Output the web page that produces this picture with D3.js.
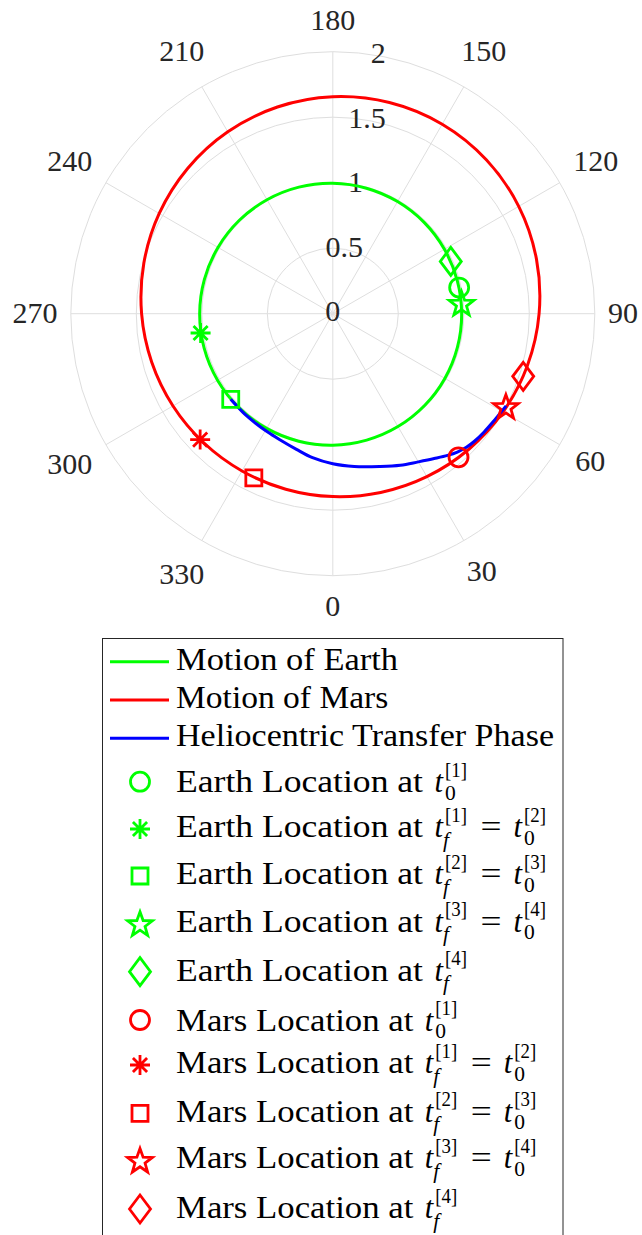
<!DOCTYPE html>
<html>
<head>
<meta charset="utf-8">
<script src="https://cdn.jsdelivr.net/npm/d3@7"></script>
<style>
  html, body { margin: 0; padding: 0; background: #fff; }
  svg { display: block; }
</style>
</head>
<body>
<svg id="chart" width="642" height="1235"></svg>
<script>
// ---- Orbit samples: polar angle (deg) and heliocentric radius (AU) ----
const orbitTheta = [0, 15, 30, 45, 60, 75, 90, 105, 120, 135, 150, 165,
                    180, 195, 210, 225, 240, 255, 270, 285, 300, 315, 330, 345];
const earthR = [1.0035, 0.9991, 0.9949, 0.9910, 0.9877, 0.9852, 0.9837, 0.9833,
                0.9840, 0.9858, 0.9885, 0.9919, 0.9960, 1.0003, 1.0046, 1.0087,
                1.0121, 1.0147, 1.0163, 1.0167, 1.0160, 1.0141, 1.0113, 1.0076];
const marsR  = [1.3959, 1.4125, 1.4362, 1.4659, 1.5004, 1.5375, 1.5748, 1.6096,
                1.6388, 1.6597, 1.6702, 1.6690, 1.6563, 1.6336, 1.6030, 1.5675,
                1.5299, 1.4932, 1.4596, 1.4309, 1.4086, 1.3935, 1.3862, 1.3870];

// ---- Heliocentric transfer arc ----
const transferTheta = [310, 318, 325, 331, 337, 345, 352, 0, 8, 17, 24, 30,
                       35, 39, 42, 45, 48, 52, 56, 59, 62];
const transferR = [1.017, 1.019, 1.023, 1.031, 1.043, 1.072, 1.110, 1.146, 1.178,
                   1.220, 1.267, 1.306, 1.350, 1.392, 1.421, 1.442, 1.455, 1.466,
                   1.476, 1.485, 1.498];

// ---- Planet locations at the phase boundary epochs ----
const markerShapes = ["circle", "asterisk", "square", "pentagram", "diamond"];
const earthMarkerTheta = [101.7, 278.3, 310.0, 94.8, 113.9];
const earthMarkerR     = [0.985, 1.020, 1.017, 0.986, 0.985];
const marsMarkerTheta  = [41.2, 313.5, 334.3, 61.9, 71.8];
const marsMarkerR      = [1.457, 1.396, 1.390, 1.498, 1.530];

// ---- Axis ticks ----
const thetaTicks = [0, 30, 60, 90, 120, 150, 180, 210, 240, 270, 300, 330];
const rTicks = [0, 0.5, 1, 1.5, 2];
const rTickLabels = ["0", "0.5", "1", "1.5", "2"];

// ---- Legend ----
const lineNames = ["Motion of Earth", "Motion of Mars", "Heliocentric Transfer Phase"];
const bodyNames = ["Earth", "Mars"];
// each epoch label: list of [subscript, superscript] joined by "="
const epochLabels = [
  [["0", "[1]"]],
  [["f", "[1]"], ["0", "[2]"]],
  [["f", "[2]"], ["0", "[3]"]],
  [["f", "[3]"], ["0", "[4]"]],
  [["f", "[4]"]]
];

const GREEN = "#00ff00", RED = "#ff0000", BLUE = "#0000ff";
const GRID = "#dedede", AXIS_TEXT = "#262626";
const FONT = "'Liberation Serif', Tinos, 'Times New Roman', 'DejaVu Serif', serif";

const svg = d3.select("#chart");
const cx = 332.8, cy = 313.7;
const RMAX = 262;

const r = d3.scaleLinear().domain([0, 2]).range([0, RMAX]);
// 0 deg at the bottom, increasing counter-clockwise on screen
const ang = d3.scaleLinear().domain([0, 360]).range([Math.PI, -Math.PI]);
const toXY = (t, rv) => {
  const a = ang(t), rr = r(rv);
  return [cx + rr * Math.sin(a), cy - rr * Math.cos(a)];
};

const plot = svg.append("g");

// grid circles
plot.selectAll("circle.grid").data(rTicks.filter(d => d > 0)).join("circle")
  .attr("cx", cx).attr("cy", cy).attr("r", d => r(d))
  .attr("fill", "none").attr("stroke", GRID).attr("stroke-width", 1);

// spokes
plot.selectAll("line.spoke").data(thetaTicks).join("line")
  .attr("x1", cx).attr("y1", cy)
  .attr("x2", d => toXY(d, 2)[0]).attr("y2", d => toXY(d, 2)[1])
  .attr("stroke", GRID).attr("stroke-width", 1);

// theta tick labels: label box kept a fixed gap outside the outer ring
const TFS = 30;
plot.selectAll("text.tt").data(thetaTicks).join("text")
  .each(function (d) {
    const a = ang(d), ux = Math.sin(a), uy = -Math.cos(a);
    const w = String(d).length * TFS * 0.5, hh = 17.7;
    const dist = RMAX + 13.3 + (w / 2) * Math.abs(ux) + hh * Math.abs(uy);
    d3.select(this)
      .attr("x", cx + dist * ux)
      .attr("y", cy + dist * uy - 1.7 + 10.5);
  })
  .attr("text-anchor", "middle")
  .attr("font-family", FONT).attr("font-size", TFS).attr("fill", AXIS_TEXT)
  .text(d => d);

// r tick labels along the 170 deg direction
plot.selectAll("text.rt").data(rTicks).join("text")
  .attr("x", d => toXY(170, d)[0])
  .attr("y", d => toXY(170, d)[1] + 10.5 - 3)
  .attr("text-anchor", "middle")
  .attr("font-family", FONT).attr("font-size", TFS).attr("fill", AXIS_TEXT)
  .text((d, i) => rTickLabels[i]);

// orbits and transfer arc
const radial = d3.lineRadial()
  .angle(d => ang(d[0]))
  .radius(d => r(d[1]));

const gLines = plot.append("g").attr("transform", `translate(${cx},${cy})`);
gLines.append("path")
  .attr("d", radial.curve(d3.curveCatmullRomClosed.alpha(0.5))(orbitTheta.map((t, i) => [t, earthR[i]])))
  .attr("fill", "none").attr("stroke", GREEN).attr("stroke-width", 3);
gLines.append("path")
  .attr("d", radial.curve(d3.curveCatmullRomClosed.alpha(0.5))(orbitTheta.map((t, i) => [t, marsR[i]])))
  .attr("fill", "none").attr("stroke", RED).attr("stroke-width", 3);
gLines.append("path")
  .attr("d", radial.curve(d3.curveCatmullRom.alpha(0.5))(transferTheta.map((t, i) => [t, transferR[i]])))
  .attr("fill", "none").attr("stroke", BLUE).attr("stroke-width", 3);

// marker shapes
function markerPath(shape) {
  const p = d3.path();
  if (shape === "circle") {
    p.arc(0, 0, 9.5, 0, 2 * Math.PI);
  } else if (shape === "square") {
    p.rect(-8, -8, 16, 16);
  } else if (shape === "diamond") {
    p.moveTo(0, -14); p.lineTo(10.5, 0); p.lineTo(0, 14); p.lineTo(-10.5, 0); p.closePath();
  } else if (shape === "pentagram") {
    for (let k = 0; k < 10; k++) {
      const rr = k % 2 === 0 ? 13 : 5.3;
      const a = -Math.PI / 2 + k * Math.PI / 5;
      const x = rr * Math.cos(a), y = rr * Math.sin(a) + 1.5;
      if (k === 0) p.moveTo(x, y); else p.lineTo(x, y);
    }
    p.closePath();
  } else if (shape === "asterisk") {
    const s = 10, d = 7.07;
    p.moveTo(-s, 0); p.lineTo(s, 0);
    p.moveTo(0, -s); p.lineTo(0, s);
    p.moveTo(-d, -d); p.lineTo(d, d);
    p.moveTo(-d, d); p.lineTo(d, -d);
  }
  return p.toString();
}

function drawMarkers(thetas, radii, color) {
  plot.append("g").selectAll("path").data(thetas).join("path")
    .attr("transform", (t, i) => { const [x, y] = toXY(t, radii[i]); return `translate(${x},${y})`; })
    .attr("d", (t, i) => markerPath(markerShapes[i]))
    .attr("fill", "none").attr("stroke", color).attr("stroke-width", 2.8);
}
drawMarkers(earthMarkerTheta, earthMarkerR, GREEN);
drawMarkers(marsMarkerTheta, marsMarkerR, RED);

// ---- legend ----
const legend = svg.append("g");
legend.append("rect")
  .attr("x", 102.5).attr("y", 638.5).attr("width", 460.5).attr("height", 640)
  .attr("fill", "#fff").attr("stroke", "#262626").attr("stroke-width", 1);

const LFS = 30.5, SFS = 21.5, TEXT_X = 176;
const lineRowY = [661.7, 700, 738.3];
const lineTextW = [222, 212.3, 378];
const markerRowY = [781.7, 829, 876, 923.3, 971.7, 1020, 1065, 1113.3, 1160, 1209];
const markerBaseOff = [10.6, 8.3, 8.3, 8.3, 9.0, 10.6, 8.3, 8.3, 8.3, 9.0];
const prefixW = [247, 237.3];

const lineColors = [GREEN, RED, BLUE];
lineNames.forEach((name, i) => {
  const y = lineRowY[i];
  legend.append("line").attr("x1", 110).attr("x2", 169).attr("y1", y).attr("y2", y)
    .attr("stroke", lineColors[i]).attr("stroke-width", 3);
  legend.append("text").attr("x", TEXT_X).attr("y", y + 8)
    .attr("font-family", FONT).attr("font-size", LFS).attr("fill", "#000")
    .attr("textLength", lineTextW[i]).attr("lengthAdjust", "spacingAndGlyphs")
    .text(name);
});

function mathLabel(g, x0, base, parts) {
  const offs = [0, 79];
  parts.forEach((pt, k) => {
    const x = x0 + offs[k];
    if (k > 0) {
      g.append("text").attr("x", x0 + 46).attr("y", base)
        .attr("font-family", FONT).attr("font-size", LFS)
        .attr("textLength", 21).attr("lengthAdjust", "spacingAndGlyphs").text("=");
    }
    g.append("text").attr("x", x).attr("y", base)
      .attr("font-family", FONT).attr("font-size", LFS).attr("font-style", "italic").text("t");
    const isF = pt[0] === "f";
    g.append("text").attr("x", x + 10.5 - (isF ? 2 : 0)).attr("y", base + (isF ? 9.5 : 7.5))
      .attr("font-family", FONT).attr("font-size", SFS)
      .attr("font-style", isF ? "italic" : "normal").text(pt[0]);
    g.append("text").attr("x", x + 10.5).attr("y", base - 15.5)
      .attr("font-family", FONT).attr("font-size", SFS)
      .attr("textLength", 22).attr("lengthAdjust", "spacingAndGlyphs").text(pt[1]);
  });
}

bodyNames.forEach((body, b) => {
  const color = b === 0 ? GREEN : RED;
  markerShapes.forEach((shape, i) => {
    const row = b * 5 + i;
    const y = markerRowY[row];
    const base = y + markerBaseOff[row];
    legend.append("path").attr("transform", `translate(140,${y})`)
      .attr("d", markerPath(shape)).attr("fill", "none")
      .attr("stroke", color).attr("stroke-width", 2.8);
    const g = legend.append("g").attr("fill", "#000");
    g.append("text").attr("x", TEXT_X).attr("y", base)
      .attr("font-family", FONT).attr("font-size", LFS)
      .attr("textLength", prefixW[b]).attr("lengthAdjust", "spacingAndGlyphs")
      .text(`${body} Location at`);
    mathLabel(g, TEXT_X + prefixW[b] + 11.5, base, epochLabels[i]);
  });
});
</script>
</body>
</html>
